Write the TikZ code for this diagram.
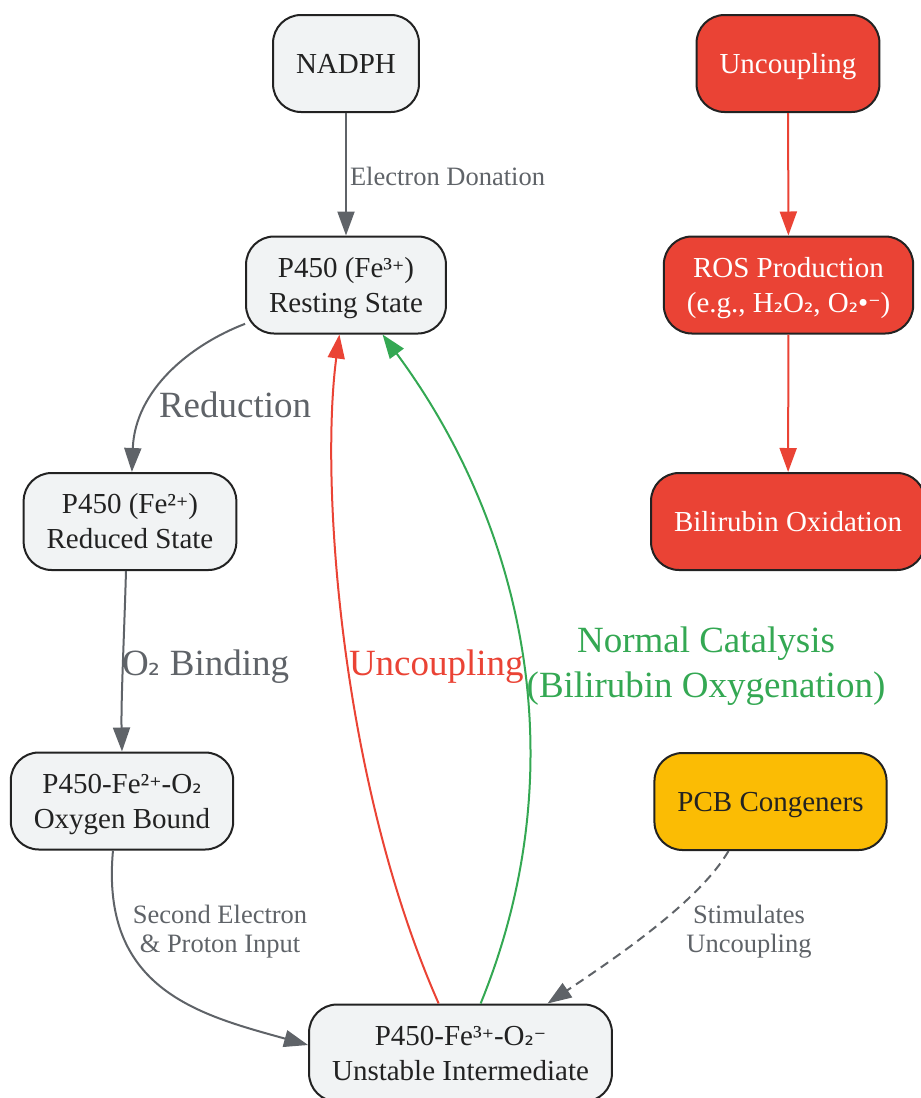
\documentclass[tikz,border=0pt]{standalone}
\usepackage{fontspec}
\setmainfont{Liberation Serif}
\newfontfamily\fallback{DejaVu Sans}[Scale=0.8]
\newcommand\supplus{{\fallback ⁺}}
\newcommand\supminus{{\fallback ⁻}}
\newcommand\subtwo{{\fallback ₂}}
\usetikzlibrary{arrows.meta}
\definecolor{nodefill}{HTML}{F1F3F4}
\definecolor{nodeline}{HTML}{222222}
\definecolor{edgegray}{HTML}{5F6368}
\definecolor{alertred}{HTML}{EA4335}
\definecolor{okgreen}{HTML}{34A853}
\definecolor{pcbyellow}{HTML}{FBBC04}

\begin{document}
\begin{tikzpicture}[x=1pt,y=-1pt,
  box/.style={draw=nodeline, line width=2pt, rounded corners=28pt, fill=nodefill,
    minimum height=97pt, inner xsep=23pt, align=center, text=nodeline,
    font=\fontsize{29}{35}\selectfont, text height=27.3pt, text depth=7.7pt},
  twoline/.style={text height=62.3pt},
  hot/.style={box, fill=alertred, text=white},
  warn/.style={box, fill=pcbyellow},
  flow/.style={draw=edgegray, line width=2pt, -{Triangle[length=24pt,width=17pt]}},
  redflow/.style={flow, draw=alertred},
  greenflow/.style={flow, draw=okgreen},
  small/.style={text=edgegray, inner sep=0pt, align=center, font=\fontsize{26.5}{29.5}\selectfont},
  big/.style={text=edgegray, inner sep=0pt, align=center, font=\fontsize{37}{45}\selectfont}]
\useasboundingbox (0,0) rectangle (921,1098);

% cycle
\node[box] (nadph) at (346,63.5) {NADPH};
\node[box, twoline] (rest) at (346,285) {P450 (Fe³\supplus)\\Resting State};
\node[box, twoline] (reduced) at (130,521.5) {P450 (Fe²\supplus)\\Reduced State};
\node[box, twoline] (oxy) at (122,801) {P450-Fe²\supplus-O\subtwo\\Oxygen Bound};
\node[box, twoline] (unst) at (460.5,1053) {P450-Fe³\supplus-O\subtwo\supminus\\Unstable Intermediate};

% side chain
\node[hot] (uncoup) at (788,63.5) {Uncoupling};
\node[hot, twoline] (ros) at (788.5,285) {ROS Production\\(e.g., H\subtwo O\subtwo, O\subtwo•\supminus)};
\node[hot] (bili) at (788,521.5) {Bilirubin Oxidation};
\node[warn] (pcb) at (770.5,801.5) {PCB Congeners};

\draw[flow] (nadph) -- (rest) node[small, anchor=base west] at (349,185) {Electron Donation};
\draw[flow] (rest) .. controls (190,345) and (135,390) .. (reduced)
  node[big, anchor=base west] at (158,417) {Reduction};
\draw[flow] ([xshift=-4pt]reduced.south) .. controls (124,640) and (121,700) .. (oxy.north)
  node[big, anchor=base west] at (121,675) {O\subtwo\ Binding};
\draw[flow] ([xshift=-9pt]oxy.south) .. controls (100,990) and (200,1015) .. ([yshift=8pt]unst.west)
  node[small] at (220,931.5) {Second Electron\\\& Proton Input};
\draw[redflow] (unst) .. controls (340,780) and (320,480) .. (rest)
  node[big, text=alertred, anchor=base west] at (348,675) {Uncoupling};
\draw[greenflow] (unst) .. controls (580,760) and (520,520) .. (rest)
  node[big, text=okgreen] at (706,666) {Normal Catalysis\\(Bilirubin Oxygenation)};
\draw[flow, dash pattern=on 9pt off 6pt] ([xshift=-42pt]pcb.south) .. controls (700,900) and (620,955) .. ([xshift=87pt]unst.north)
  node[small] at (749,931.5) {Stimulates\\Uncoupling};

\draw[redflow] (uncoup) -- (ros);
\draw[redflow] (ros) -- (bili);
\end{tikzpicture}
\end{document}
